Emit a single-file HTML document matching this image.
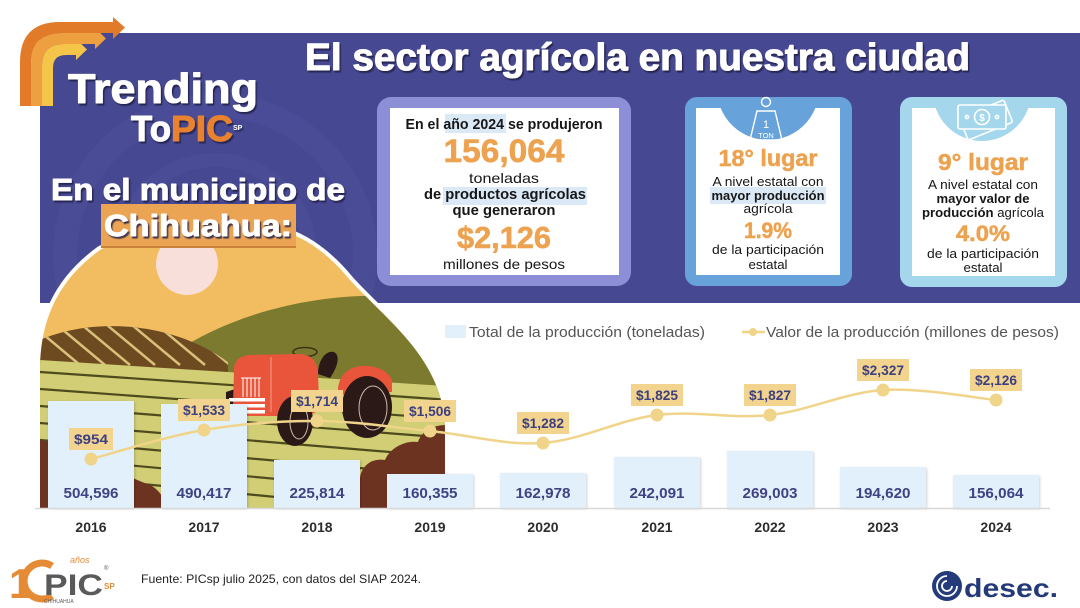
<!DOCTYPE html>
<html><head><meta charset="utf-8"><style>
html,body{margin:0;padding:0;background:#fff;width:1080px;height:608px;overflow:hidden}
svg{display:block}
</style></head><body>
<svg width="1080" height="608" viewBox="0 0 1080 608" xmlns="http://www.w3.org/2000/svg" font-family="'Liberation Sans', sans-serif">
<defs>
 <clipPath id="hillc"><path d="M40,508 L40,372 C40,322 56,282 100,250 C140,226 200,220 250,224 C292,228 322,246 350,280 C388,322 445,360 445,432 L445,508 Z"/></clipPath>
 <clipPath id="bannerc"><rect x="40" y="33" width="1040" height="270"/></clipPath>
 <clipPath id="c2"><rect x="696" y="108" width="144" height="167"/></clipPath>
 <clipPath id="c3"><rect x="912" y="108" width="143" height="168"/></clipPath>
 <clipPath id="brownc"><path d="M40,340 C90,318 170,320 228,362 L228,420 L40,420 Z"/></clipPath>
 <filter id="ts" x="-5%" y="-20%" width="110%" height="150%"><feDropShadow dx="1.5" dy="2" stdDeviation="0.6" flood-color="#1c1d48" flood-opacity="0.85"/></filter>
 <filter id="sh" x="-10%" y="-10%" width="120%" height="120%"><feDropShadow dx="1" dy="1" stdDeviation="1.2" flood-color="#000" flood-opacity="0.18"/></filter>
</defs>

<!-- banner -->
<rect x="40" y="33" width="1040" height="270" fill="#474892"/>
<g clip-path="url(#bannerc)" fill="none" stroke="#5557a2" opacity="0.3">
 <circle cx="215" cy="255" r="150" stroke-width="24"/>
 <circle cx="215" cy="255" r="95" stroke-width="14"/>
</g>

<!-- logo C -->
<path d="M42,106 L42,66 Q42,44 64,44 L76,44 L76,39 L87,49.5 L76,60 L76,55 L66,55 Q53,55 53,68 L53,106 Z" fill="#f5c54a"/>
<path d="M31,106 L31,64 Q31,33 62,33 L95,33 L95,28 L106,38.5 L95,49 L95,44 L64,44 Q42,44 42,66 L42,106 Z" fill="#ee9f40"/>
<path d="M20,106 L20,62 Q20,22 60,22 L113,22 L113,17 L125,27.5 L113,39 L113,33 L62,33 Q31,33 31,64 L31,106 Z" fill="#e27b29"/>

<g filter="url(#ts)" font-weight="bold" stroke-linejoin="round">
 <text x="68" y="103" font-size="42" fill="#fff" stroke="#fff" stroke-width="1" textLength="190" lengthAdjust="spacingAndGlyphs">Trending</text>
 <text x="131" y="141" font-size="36" fill="#fff" stroke="#fff" stroke-width="1" textLength="40" lengthAdjust="spacingAndGlyphs">To</text>
 <text x="171" y="141" font-size="36" fill="#e8822f" stroke="#e8822f" stroke-width="1" textLength="62" lengthAdjust="spacingAndGlyphs">PIC</text>
 <text x="233" y="130" font-size="7" fill="#fff">SP</text>
 <text x="305" y="70" font-size="38" fill="#fff" stroke="#fff" stroke-width="1" textLength="665" lengthAdjust="spacingAndGlyphs">El sector agrícola en nuestra ciudad</text>
 <text x="51" y="200" font-size="31" fill="#fff" stroke="#fff" stroke-width="0.9" textLength="294" lengthAdjust="spacingAndGlyphs">En el municipio de</text>
</g>

<!-- illustration -->
<path d="M40,508 L40,372 C40,322 56,282 100,250 C140,226 200,220 250,224 C292,228 322,246 350,280 C388,322 445,360 445,432 L445,508 Z" fill="#f2bd60" stroke="#fff" stroke-width="8"/>
<g clip-path="url(#hillc)">
 <rect x="30" y="210" width="430" height="300" fill="#f2bd60"/>
 <circle cx="187" cy="264" r="31" fill="#f9dfd9"/>
 <path d="M172,354 C228,316 300,298 362,296 C402,295 432,300 452,306 L452,450 L172,450 Z" fill="#7b7a2e"/>
 <path d="M40,340 C90,318 170,320 228,362 L228,420 L40,420 Z" fill="#6d4a20"/>
 <g clip-path="url(#brownc)" stroke="#d9c17c" stroke-width="2.5">
  <line x1="20" y1="315" x2="80" y2="365"/>
  <line x1="45" y1="315" x2="105" y2="365"/>
  <line x1="70" y1="315" x2="130" y2="365"/>
  <line x1="95" y1="315" x2="155" y2="365"/>
  <line x1="120" y1="315" x2="180" y2="365"/>
  <line x1="145" y1="315" x2="205" y2="365"/>
  <line x1="170" y1="315" x2="230" y2="365"/>
 </g>
 <path d="M40,360 L445,386 L445,508 L40,508 Z" fill="#d1ce75"/>
 <g stroke="#4e4b1d" stroke-width="2.2">
  <line x1="40" y1="372" x2="450" y2="400"/>
  <line x1="40" y1="389" x2="450" y2="419"/>
  <line x1="40" y1="406" x2="450" y2="438"/>
  <line x1="40" y1="423" x2="450" y2="457"/>
  <line x1="40" y1="440" x2="450" y2="476"/>
  <line x1="40" y1="457" x2="450" y2="495"/>
  <line x1="40" y1="474" x2="450" y2="514"/>
  <line x1="40" y1="491" x2="450" y2="533"/>
 </g>
 <path d="M40,440 C70,445 110,470 150,485 C160,490 165,500 168,508 L40,508 Z" fill="#6c3320"/>
 <path d="M358,508 L360,478 C362,465 372,458 385,460 C390,448 405,440 418,442 C422,430 435,425 447,425 L447,508 Z" fill="#6c3320"/>
 <!-- tractor -->
 <path d="M338,388 C340,372 352,365 368,366 C380,367 388,372 392,380 L392,392 L338,395 Z" fill="#e8553a"/>
 <ellipse cx="367" cy="407" rx="25" ry="31" fill="#2a1917"/>
 <ellipse cx="373" cy="408" rx="14" ry="22" fill="none" stroke="#cdb8a8" stroke-width="1"/>
 <path d="M318,374 C318,360 326,350 334,352 C341,356 337,368 330,378 Z" fill="#2a1917"/>
 <ellipse cx="305" cy="352" rx="12" ry="4.5" fill="none" stroke="#3a3418" stroke-width="1.5"/>
 <path d="M226,392 L235,389 L235,409 L226,407 Z" fill="#2a1917"/>
 <path d="M234,370 C234,360 240,356 250,355 L298,354 C310,354 317,360 318,372 L319,405 C319,412 312,416 300,416 L240,416 C235,416 233,412 233,405 Z" fill="#e8553a"/>
 <line x1="271" y1="357" x2="271" y2="412" stroke="#f4a08a" stroke-width="1"/>
 <g stroke="#fff" stroke-width="1">
  <line x1="243" y1="378" x2="243" y2="397"/><line x1="247" y1="378" x2="247" y2="397"/>
  <line x1="251" y1="378" x2="251" y2="397"/><line x1="255" y1="378" x2="255" y2="397"/>
  <line x1="259" y1="378" x2="259" y2="397"/><line x1="241" y1="378" x2="261" y2="378"/>
 </g>
 <rect x="229" y="398" width="36" height="3.5" fill="#fff"/>
 <rect x="229" y="404" width="36" height="3.5" fill="#fff"/>
 <rect x="229" y="410" width="36" height="3.5" fill="#fff"/>
 <ellipse cx="295" cy="421" rx="18" ry="25" fill="#2a1917"/>
 <ellipse cx="299" cy="422" rx="9" ry="17" fill="none" stroke="#cdb8a8" stroke-width="1"/>
</g>

<!-- Chihuahua label -->
<rect x="101" y="204" width="195" height="44" fill="#eba454"/>
<rect x="101" y="246" width="195" height="2" fill="#c98338"/>
<text x="104" y="236" font-size="31" font-weight="bold" fill="#fff" stroke="#fff" stroke-width="0.9" stroke-linejoin="round" filter="url(#ts)" textLength="188" lengthAdjust="spacingAndGlyphs">Chihuahua:</text>

<!-- card 1 -->
<rect x="377" y="97" width="254" height="189" rx="14" fill="#8d8fd6"/>
<rect x="390" y="108" width="229" height="167" fill="#fff"/>
<rect x="445" y="114" width="61" height="19" fill="#dbe8f6"/>
<rect x="443" y="187" width="144" height="18" fill="#dbe8f6"/>
<g text-anchor="middle" fill="#161616">
 <text x="504" y="129" font-size="14.5" font-weight="bold" textLength="197" lengthAdjust="spacingAndGlyphs">En el año 2024 se produjeron</text>
 <text x="504" y="162" font-size="32" font-weight="bold" fill="#eda24f" stroke="#eda24f" stroke-width="0.6" textLength="121" lengthAdjust="spacingAndGlyphs">156,064</text>
 <text x="504" y="183" font-size="14" textLength="70" lengthAdjust="spacingAndGlyphs">toneladas</text>
 <text x="505" y="199" font-size="14.5" font-weight="bold" textLength="162" lengthAdjust="spacingAndGlyphs">de productos agrícolas</text>
 <text x="504" y="215" font-size="14.5" font-weight="bold" textLength="103" lengthAdjust="spacingAndGlyphs">que generaron</text>
 <text x="504" y="248" font-size="31" font-weight="bold" fill="#eda24f" stroke="#eda24f" stroke-width="0.6" textLength="94" lengthAdjust="spacingAndGlyphs">$2,126</text>
 <text x="504" y="269" font-size="14" textLength="122" lengthAdjust="spacingAndGlyphs">millones de pesos</text>
</g>

<!-- card 2 -->
<rect x="685" y="97" width="167" height="189" rx="12" fill="#67a3da"/>
<rect x="696" y="108" width="144" height="167" fill="#fff"/>
<g clip-path="url(#c2)"><circle cx="768" cy="89" r="51" fill="#67a3da"/></g>
<g stroke="#fff" stroke-width="1.4" fill="none">
 <circle cx="766" cy="102" r="4.5"/>
 <path d="M757,111 L775,111 L782,140 L750,140 Z"/>
</g>
<text x="766" y="128" font-size="11" fill="#fff" text-anchor="middle">1</text>
<text x="766" y="138" font-size="7.5" fill="#fff" text-anchor="middle">TON</text>
<rect x="710" y="187" width="116" height="17" fill="#dbe8f6"/>
<g text-anchor="middle" fill="#161616">
 <text x="768" y="166" font-size="23" font-weight="bold" fill="#eda24f" stroke="#eda24f" stroke-width="0.5" textLength="99" lengthAdjust="spacingAndGlyphs">18° lugar</text>
 <text x="768" y="186" font-size="13" textLength="111" lengthAdjust="spacingAndGlyphs">A nivel estatal con</text>
 <text x="768" y="200" font-size="13" font-weight="bold" textLength="113" lengthAdjust="spacingAndGlyphs">mayor producción</text>
 <text x="768" y="213" font-size="13" textLength="49" lengthAdjust="spacingAndGlyphs">agrícola</text>
 <text x="768" y="238" font-size="22" font-weight="bold" fill="#eda24f" stroke="#eda24f" stroke-width="0.5" textLength="48" lengthAdjust="spacingAndGlyphs">1.9%</text>
 <text x="768" y="254" font-size="13" textLength="112" lengthAdjust="spacingAndGlyphs">de la participación</text>
 <text x="768" y="269" font-size="13" textLength="39" lengthAdjust="spacingAndGlyphs">estatal</text>
</g>

<!-- card 3 -->
<rect x="900" y="97" width="167" height="190" rx="12" fill="#a5d7ec"/>
<rect x="912" y="108" width="143" height="168" fill="#fff"/>
<g clip-path="url(#c3)"><circle cx="982" cy="92" r="49" fill="#a5d7ec"/></g>
<g transform="translate(986,120) rotate(-22)" stroke="#fff" stroke-width="1.6" fill="#a5d7ec">
 <rect x="-24" y="-12" width="48" height="24" rx="2"/>
</g>
<g transform="translate(982,117)" stroke="#fff" stroke-width="1.6" fill="#a5d7ec">
 <rect x="-24" y="-12" width="48" height="24" rx="2"/>
 <circle r="7.5" fill="none"/>
 <circle cx="-15" r="1.6" fill="none"/><circle cx="15" r="1.6" fill="none"/>
</g>
<text x="982" y="121" font-size="10" font-weight="bold" fill="#fff" text-anchor="middle">$</text>
<g text-anchor="middle" fill="#161616">
 <text x="983" y="170" font-size="23" font-weight="bold" fill="#eda24f" stroke="#eda24f" stroke-width="0.5" textLength="90" lengthAdjust="spacingAndGlyphs">9° lugar</text>
 <text x="983" y="189" font-size="13" textLength="110" lengthAdjust="spacingAndGlyphs">A nivel estatal con</text>
 <text x="983" y="203" font-size="13" font-weight="bold" textLength="93" lengthAdjust="spacingAndGlyphs">mayor valor de</text>
 <text x="983" y="217" font-size="13" textLength="122" lengthAdjust="spacingAndGlyphs"><tspan font-weight="bold">producción</tspan> agrícola</text>
 <text x="983" y="241" font-size="22" font-weight="bold" fill="#eda24f" stroke="#eda24f" stroke-width="0.5" textLength="54" lengthAdjust="spacingAndGlyphs">4.0%</text>
 <text x="983" y="258" font-size="13" textLength="112" lengthAdjust="spacingAndGlyphs">de la participación</text>
 <text x="983" y="272" font-size="13" textLength="39" lengthAdjust="spacingAndGlyphs">estatal</text>
</g>

<!-- legend -->
<rect x="445" y="325" width="21" height="13" fill="#e2f0fb"/>
<text x="469" y="337" font-size="14.5" fill="#555" textLength="236" lengthAdjust="spacingAndGlyphs">Total de la producción (toneladas)</text>
<line x1="742" y1="332" x2="765" y2="332" stroke="#f0d48a" stroke-width="2.5"/>
<circle cx="753" cy="332" r="4" fill="#f0d48a"/>
<text x="766" y="337" font-size="14.5" fill="#555" textLength="293" lengthAdjust="spacingAndGlyphs">Valor de la producción (millones de pesos)</text>

<!-- bars -->
<g fill="#e2f0fb" filter="url(#sh)">
 <rect x="48" y="401" width="86" height="107"/>
 <rect x="161" y="404" width="86" height="104"/>
 <rect x="274" y="460" width="86" height="48"/>
 <rect x="387" y="474" width="86" height="34"/>
 <rect x="500" y="473" width="86" height="35"/>
 <rect x="614" y="457" width="86" height="51"/>
 <rect x="727" y="451" width="86" height="57"/>
 <rect x="840" y="467" width="86" height="41"/>
 <rect x="953" y="475" width="86" height="33"/>
</g>
<line x1="35" y1="508.5" x2="1050" y2="508.5" stroke="#d8d8d8" stroke-width="1.5"/>

<g text-anchor="middle" font-weight="bold" font-size="15" fill="#3f4383">
 <text x="91" y="498" textLength="55" lengthAdjust="spacingAndGlyphs">504,596</text>
 <text x="204" y="498" textLength="55" lengthAdjust="spacingAndGlyphs">490,417</text>
 <text x="317" y="498" textLength="55" lengthAdjust="spacingAndGlyphs">225,814</text>
 <text x="430" y="498" textLength="55" lengthAdjust="spacingAndGlyphs">160,355</text>
 <text x="543" y="498" textLength="55" lengthAdjust="spacingAndGlyphs">162,978</text>
 <text x="657" y="498" textLength="55" lengthAdjust="spacingAndGlyphs">242,091</text>
 <text x="770" y="498" textLength="55" lengthAdjust="spacingAndGlyphs">269,003</text>
 <text x="883" y="498" textLength="55" lengthAdjust="spacingAndGlyphs">194,620</text>
 <text x="996" y="498" textLength="55" lengthAdjust="spacingAndGlyphs">156,064</text>
</g>
<g text-anchor="middle" font-weight="bold" font-size="14" fill="#2d2d2d">
 <text x="91" y="532">2016</text><text x="204" y="532">2017</text><text x="317" y="532">2018</text>
 <text x="430" y="532">2019</text><text x="543" y="532">2020</text><text x="657" y="532">2021</text>
 <text x="770" y="532">2022</text><text x="883" y="532">2023</text><text x="996" y="532">2024</text>
</g>

<!-- line -->
<path d="M91,459 C109.8,454.2 166,436.3 204,430 C241.8,423.7 279,420.8 317,421 C355,421.2 392,427.3 430,431 C468,434.7 505,445.7 543,443 C581,440.3 619,419.7 657,415 C695,410.3 732,419.2 770,415 C808,410.8 845,392.5 883,390 C921,387.5 977,398.3 996,400" fill="none" stroke="#f0d48a" stroke-width="2.5"/>
<g fill="#f0d48a">
 <circle cx="91" cy="459" r="6.5"/><circle cx="204" cy="430" r="6.5"/><circle cx="317" cy="421" r="6.5"/>
 <circle cx="430" cy="431" r="6.5"/><circle cx="543" cy="443" r="6.5"/><circle cx="657" cy="415" r="6.5"/>
 <circle cx="770" cy="415" r="6.5"/><circle cx="883" cy="390" r="6.5"/><circle cx="996" cy="400" r="6.5"/>
</g>
<g fill="#f2d48e">
 <rect x="69" y="428" width="44" height="22"/><rect x="178" y="399" width="52" height="22"/>
 <rect x="291" y="390" width="52" height="22"/><rect x="404" y="400" width="52" height="22"/>
 <rect x="517" y="412" width="52" height="22"/><rect x="631" y="384" width="52" height="22"/>
 <rect x="744" y="384" width="52" height="22"/><rect x="857" y="359" width="52" height="22"/>
 <rect x="970" y="369" width="52" height="22"/>
</g>
<g text-anchor="middle" font-weight="bold" font-size="14" fill="#3d4080">
 <text x="91" y="444" textLength="34" lengthAdjust="spacingAndGlyphs">$954</text>
 <text x="204" y="415" textLength="42" lengthAdjust="spacingAndGlyphs">$1,533</text>
 <text x="317" y="406" textLength="42" lengthAdjust="spacingAndGlyphs">$1,714</text>
 <text x="430" y="416" textLength="42" lengthAdjust="spacingAndGlyphs">$1,506</text>
 <text x="543" y="428" textLength="42" lengthAdjust="spacingAndGlyphs">$1,282</text>
 <text x="657" y="400" textLength="42" lengthAdjust="spacingAndGlyphs">$1,825</text>
 <text x="770" y="400" textLength="42" lengthAdjust="spacingAndGlyphs">$1,827</text>
 <text x="883" y="375" textLength="42" lengthAdjust="spacingAndGlyphs">$2,327</text>
 <text x="996" y="385" textLength="42" lengthAdjust="spacingAndGlyphs">$2,126</text>
</g>

<!-- footer -->
<text x="9" y="598" font-size="42" font-weight="bold" fill="#e58b35">1</text>
<path d="M52,566 A18,18 0 1,0 52,596" fill="none" stroke="#e58b35" stroke-width="7"/>
<text x="44" y="595" font-size="30" font-weight="bold" fill="#5a5a5a" textLength="59" lengthAdjust="spacingAndGlyphs">PIC</text>
<text x="70" y="563" font-size="9" font-style="italic" fill="#e58b35">años</text>
<text x="104" y="589" font-size="8" font-weight="bold" fill="#e58b35">SP</text>
<text x="104" y="570" font-size="6" fill="#5a5a5a">®</text>
<text x="44" y="603" font-size="5" fill="#5a5a5a">CHIHUAHUA</text>
<text x="141" y="583" font-size="12" fill="#222" textLength="280" lengthAdjust="spacingAndGlyphs">Fuente: PICsp julio 2025, con datos del SIAP 2024.</text>

<circle cx="947" cy="586" r="15" fill="#233b7b"/>
<g fill="none" stroke="#fff" stroke-width="1.8">
 <path d="M947,576 A10,10 0 1,0 957,586"/>
 <path d="M947,581 A5,5 0 1,0 952,586"/>
</g>
<text x="964" y="597" font-size="26" font-weight="bold" fill="#243a78" textLength="94" lengthAdjust="spacingAndGlyphs">desec.</text>
</svg>
</body></html>
